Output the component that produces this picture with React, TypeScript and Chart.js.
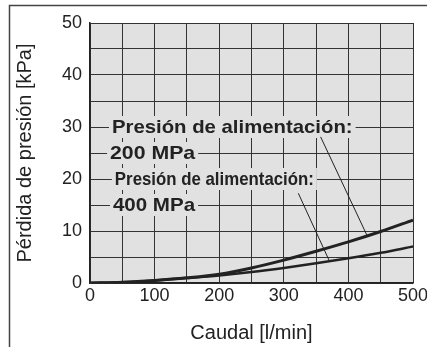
import React, { useEffect, useRef } from "react";
import { Chart, registerables } from "chart.js";

Chart.register(...registerables);

const flowValues = [0, 50, 100, 150, 200, 250, 300, 350, 400, 450, 500];
const loss200MPa = [0, 0.15, 0.5, 1.0, 1.7, 2.9, 4.4, 6.1, 7.9, 9.9, 12.1];
const loss400MPa = [0, 0.15, 0.5, 0.95, 1.45, 2.1, 2.9, 3.8, 4.75, 5.8, 7.0];
const xTickValues = [0, 100, 200, 300, 400, 500];
const yTickValues = [0, 10, 20, 30, 40, 50];

const PLOT_BG = "#e1e1e1";
const INK = "#222222";
const FONT = "'Liberation Sans', Arial, sans-serif";

const labels = [
  { text: "Presión de alimentación:", x: 34, y: 30, size: 19, stretch: 1.07 },
  { text: "200 MPa", x: 31, y: 25, size: 19, stretch: 1.12 },
  { text: "Presión de alimentación:", x: 38.5, y: 20, size: 19, stretch: 0.885 },
  { text: "400 MPa", x: 35.5, y: 15, size: 19, stretch: 1.08 },
];

const leaders = [
  { x1: 357, y1: 28.1, x2: 429, y2: 9.1 },
  { x1: 322.5, y1: 17.25, x2: 370.5, y2: 4.25 },
];

const bgPlugin = {
  id: "plotBg",
  beforeDraw(chart: any) {
    const { ctx, chartArea: a } = chart;
    ctx.save();
    ctx.fillStyle = "#ffffff";
    ctx.fillRect(0, 0, chart.width, chart.height);
    ctx.fillStyle = PLOT_BG;
    ctx.fillRect(a.left, a.top, a.right - a.left, a.bottom - a.top);
    ctx.strokeStyle = "#444";
    ctx.lineWidth = 1.5;
    ctx.beginPath();
    ctx.moveTo(9.5, chart.height);
    ctx.lineTo(9.5, 5.5);
    ctx.lineTo(chart.width, 5.5);
    ctx.stroke();
    ctx.restore();
  },
};

const annotPlugin = {
  id: "annot",
  afterDatasetsDraw(chart: any) {
    const { ctx, scales } = chart;
    const xs = scales.x;
    const ys = scales.y;
    ctx.save();
    for (const l of labels) {
      const px = xs.getPixelForValue(l.x);
      const py = ys.getPixelForValue(l.y);
      ctx.font = `bold ${l.size}px ${FONT}`;
      const w = ctx.measureText(l.text).width * l.stretch;
      ctx.fillStyle = PLOT_BG;
      ctx.fillRect(px - 3, py - 11, w + 6, 22);
      ctx.save();
      ctx.translate(px, py);
      ctx.scale(l.stretch, 1);
      ctx.fillStyle = INK;
      ctx.textBaseline = "middle";
      ctx.textAlign = "left";
      ctx.fillText(l.text, 0, 1);
      ctx.restore();
    }
    ctx.strokeStyle = INK;
    ctx.lineWidth = 1;
    for (const s of leaders) {
      ctx.beginPath();
      ctx.moveTo(xs.getPixelForValue(s.x1), ys.getPixelForValue(s.y1));
      ctx.lineTo(xs.getPixelForValue(s.x2), ys.getPixelForValue(s.y2));
      ctx.stroke();
    }
    ctx.restore();
  },
};

export default function App() {
  const ref = useRef<HTMLCanvasElement>(null);
  useEffect(() => {
    const chart = new Chart(ref.current as HTMLCanvasElement, {
      type: "line",
      data: {
        datasets: [
          {
            label: "200 MPa",
            data: flowValues.map((x, i) => ({ x, y: loss200MPa[i] })),
            borderColor: INK,
            borderWidth: 3,
            pointRadius: 0,
            cubicInterpolationMode: "monotone",
            fill: false,
          },
          {
            label: "400 MPa",
            data: flowValues.map((x, i) => ({ x, y: loss400MPa[i] })),
            borderColor: INK,
            borderWidth: 2.5,
            pointRadius: 0,
            cubicInterpolationMode: "monotone",
            fill: false,
          },
        ],
      },
      options: {
        animation: false,
        responsive: false,
        layout: { padding: { left: 10, top: 23, right: 14, bottom: 0 } },
        plugins: { legend: { display: false }, tooltip: { enabled: false }, title: { display: false } },
        scales: {
          x: {
            type: "linear",
            min: 0,
            max: 500,
            afterFit(s: any) {
              s.height = 64;
              s.paddingLeft = 0;
              s.paddingRight = 0;
            },
            ticks: {
              stepSize: 50,
              autoSkip: false,
              maxRotation: 0,
              padding: 2,
              color: INK,
              font: { family: FONT, size: 18 },
              callback: (v: any) => (xTickValues.includes(Number(v)) ? String(v) : ""),
            },
            grid: { color: "#333", lineWidth: 1, drawTicks: false },
            border: { color: "#222", width: 1.5 },
            title: {
              display: true,
              text: "Caudal [l/min]",
              color: INK,
              font: { family: FONT, size: 20 },
              padding: { top: 0, bottom: 2 },
            },
          },
          y: {
            type: "linear",
            min: 0,
            max: 50,
            afterFit(s: any) {
              s.width = 80;
              s.paddingTop = 0;
              s.paddingBottom = 0;
            },
            ticks: {
              stepSize: 5,
              autoSkip: false,
              padding: 8,
              color: INK,
              font: { family: FONT, size: 18 },
              callback: (v: any) => (yTickValues.includes(Number(v)) ? String(v) : ""),
            },
            grid: { color: "#333", lineWidth: 1, drawTicks: false },
            border: { color: "#222", width: 1.5 },
            title: {
              display: true,
              text: "Pérdida de presión [kPa]",
              color: INK,
              font: { family: FONT, size: 20 },
              padding: { top: 3, bottom: 0 },
            },
          },
        },
      },
      plugins: [bgPlugin, annotPlugin],
    } as any);
    return () => chart.destroy();
  }, []);
  return (
    <div style={{ position: "absolute", left: 0, top: 0, width: 427, height: 347 }}>
      <canvas ref={ref} width={427} height={347} style={{ display: "block" }} />
    </div>
  );
}
